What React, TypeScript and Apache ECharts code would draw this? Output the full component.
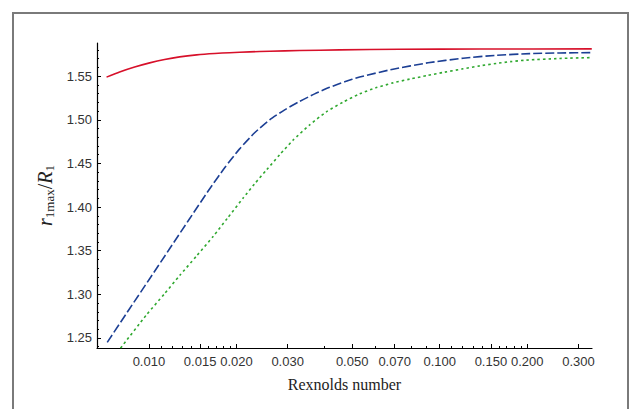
import React, { useEffect, useRef } from "react";
import * as echarts from "echarts";

const redX = [0.00715, 0.00793, 0.00893, 0.01006, 0.01132, 0.01275, 0.01459, 0.01683, 0.01895, 0.02221, 0.02602, 0.033, 0.04529, 0.07286, 0.1373, 0.3334];
const redY = [1.5489, 1.5547, 1.5604, 1.5652, 1.5691, 1.5721, 1.5744, 1.576, 1.5769, 1.5778, 1.5786, 1.5794, 1.5801, 1.5808, 1.5811, 1.5813];

const blueX = [0.00719, 0.00858, 0.01006, 0.01178, 0.0138, 0.01601, 0.01822, 0.02051, 0.0231, 0.02602, 0.0293, 0.033, 0.03715, 0.04184, 0.04712, 0.05306, 0.0691, 0.09117, 0.1203, 0.1567, 0.204, 0.2587, 0.3325];
const blueY = [1.245, 1.2835, 1.3179, 1.3522, 1.3866, 1.4187, 1.445, 1.4667, 1.4851, 1.5, 1.5114, 1.5211, 1.5297, 1.5372, 1.5435, 1.549, 1.558, 1.5653, 1.5706, 1.5739, 1.5758, 1.5766, 1.577];

const greenX = [0.00719, 0.00795, 0.00982, 0.01132, 0.01278, 0.01459, 0.01665, 0.01865, 0.02113, 0.0231, 0.02541, 0.02816, 0.03129, 0.03572, 0.04076, 0.04638, 0.05306, 0.06025, 0.0691, 0.07885, 0.09117, 0.104, 0.1203, 0.1373, 0.1567, 0.1755, 0.1987, 0.2587, 0.3325];
const greenY = [1.2183, 1.2374, 1.2767, 1.3007, 1.3218, 1.344, 1.3665, 1.3875, 1.4106, 1.4267, 1.4427, 1.4599, 1.4765, 1.4942, 1.5091, 1.52, 1.5297, 1.5366, 1.5423, 1.5466, 1.5509, 1.5546, 1.5584, 1.5618, 1.5646, 1.5667, 1.5684, 1.5703, 1.5713];

const xMajorTicks = [0.01, 0.015, 0.02, 0.03, 0.05, 0.07, 0.1, 0.15, 0.2, 0.3];
const xMinorTicks = [0.011, 0.012, 0.013, 0.014, 0.016, 0.017, 0.018, 0.019, 0.04, 0.06, 0.08, 0.09, 0.11, 0.12, 0.13, 0.14, 0.16, 0.17, 0.18, 0.19];
const yMajorTicks = [1.25, 1.3, 1.35, 1.4, 1.45, 1.5, 1.55];
const yMinorTicks = [1.24, 1.26, 1.27, 1.28, 1.29, 1.31, 1.32, 1.33, 1.34, 1.36, 1.37, 1.38, 1.39, 1.41, 1.42, 1.43, 1.44, 1.46, 1.47, 1.48, 1.49, 1.51, 1.52, 1.53, 1.54, 1.56, 1.57, 1.58];

const X_MIN = 0.00663;
const X_MAX = 0.334;
const Y_MIN = 1.2385;
const Y_MAX = 1.588;

const zip = (xs: number[], ys: number[]) => xs.map((x, i) => [x, ys[i]]);

export default function App() {
  const ref = useRef<HTMLDivElement>(null);
  useEffect(() => {
    if (!ref.current) return;
    const chart = echarts.init(ref.current, null, { renderer: "svg" });
    const labelStyle = { color: "#333", fontFamily: "Liberation Sans", fontSize: 13 };
    chart.setOption({
      animation: false,
      backgroundColor: "#fff",
      graphic: [
        {
          type: "rect",
          shape: { x: 13, y: 13, width: 615, height: 420 },
          style: { fill: "none", stroke: "#7a7a7a", lineWidth: 2 },
          silent: true,
          z: -1,
        },
      ],
      grid: { left: 97, right: 38, top: 43, bottom: 61, containLabel: false },
      xAxis: [
        {
          type: "log",
          logBase: 10,
          min: X_MIN,
          max: X_MAX,
          position: "bottom",
          axisLine: { show: true, lineStyle: { color: "#000", width: 1.2 } },
          axisTick: { show: true, inside: true, length: 4, customValues: xMajorTicks, lineStyle: { color: "#000" } },
          axisLabel: {
            ...labelStyle,
            margin: 7,
            customValues: xMajorTicks,
            formatter: (v: number) => v.toFixed(3),
          },
          splitLine: { show: false },
          minorTick: { show: false },
          name: "Rexnolds number",
          nameLocation: "middle",
          nameGap: 28,
          nameTextStyle: { color: "#222", fontFamily: "Liberation Serif", fontSize: 16 },
        },
        {
          type: "log",
          logBase: 10,
          min: X_MIN,
          max: X_MAX,
          position: "bottom",
          axisLine: { show: false },
          axisTick: { show: true, inside: true, length: 2, customValues: xMinorTicks, lineStyle: { color: "#000" } },
          axisLabel: { show: false },
          splitLine: { show: false },
        },
      ],
      yAxis: [
        {
          type: "value",
          min: Y_MIN,
          max: Y_MAX,
          position: "left",
          axisLine: { show: true, lineStyle: { color: "#000", width: 1.2 } },
          axisTick: { show: true, inside: true, length: 4, customValues: yMajorTicks, lineStyle: { color: "#000" } },
          axisLabel: {
            ...labelStyle,
            margin: 5,
            customValues: yMajorTicks,
            formatter: (v: number) => v.toFixed(2),
          },
          splitLine: { show: false },
          name: "{r|r}{sub|1max}{sl|/}{r|R}{sub|1}",
          nameLocation: "middle",
          nameRotate: 90,
          nameGap: 32,
          nameTextStyle: {
            color: "#222",
            rich: {
              r: { fontFamily: "Liberation Serif", fontStyle: "italic", fontSize: 20, color: "#222" },
              sl: { fontFamily: "Liberation Serif", fontSize: 20, color: "#222" },
              sub: { fontFamily: "Liberation Serif", fontSize: 13, color: "#222", padding: [9, 0, 0, 0] },
            },
          },
        },
        {
          type: "value",
          min: Y_MIN,
          max: Y_MAX,
          position: "left",
          axisLine: { show: false },
          axisTick: { show: true, inside: true, length: 2, customValues: yMinorTicks, lineStyle: { color: "#000" } },
          axisLabel: { show: false },
          splitLine: { show: false },
        },
      ],
      series: [
        {
          type: "line",
          data: zip(redX, redY),
          showSymbol: false,
          smooth: 0.2,
          clip: true,
          lineStyle: { color: "#d7102a", width: 1.6 },
        },
        {
          type: "line",
          data: zip(blueX, blueY),
          showSymbol: false,
          smooth: 0.2,
          clip: true,
          lineStyle: { color: "#1c3f94", width: 1.6, type: [9, 3] },
        },
        {
          type: "line",
          data: zip(greenX, greenY),
          showSymbol: false,
          smooth: 0.2,
          clip: true,
          lineStyle: { color: "#2fa82f", width: 1.6, type: [2.5, 3] },
        },
      ],
    });
    return () => chart.dispose();
  }, []);
  return (
    <div
      ref={ref}
      style={{ position: "fixed", left: 0, top: 0, width: 630, height: 409, background: "#fff" }}
    />
  );
}
